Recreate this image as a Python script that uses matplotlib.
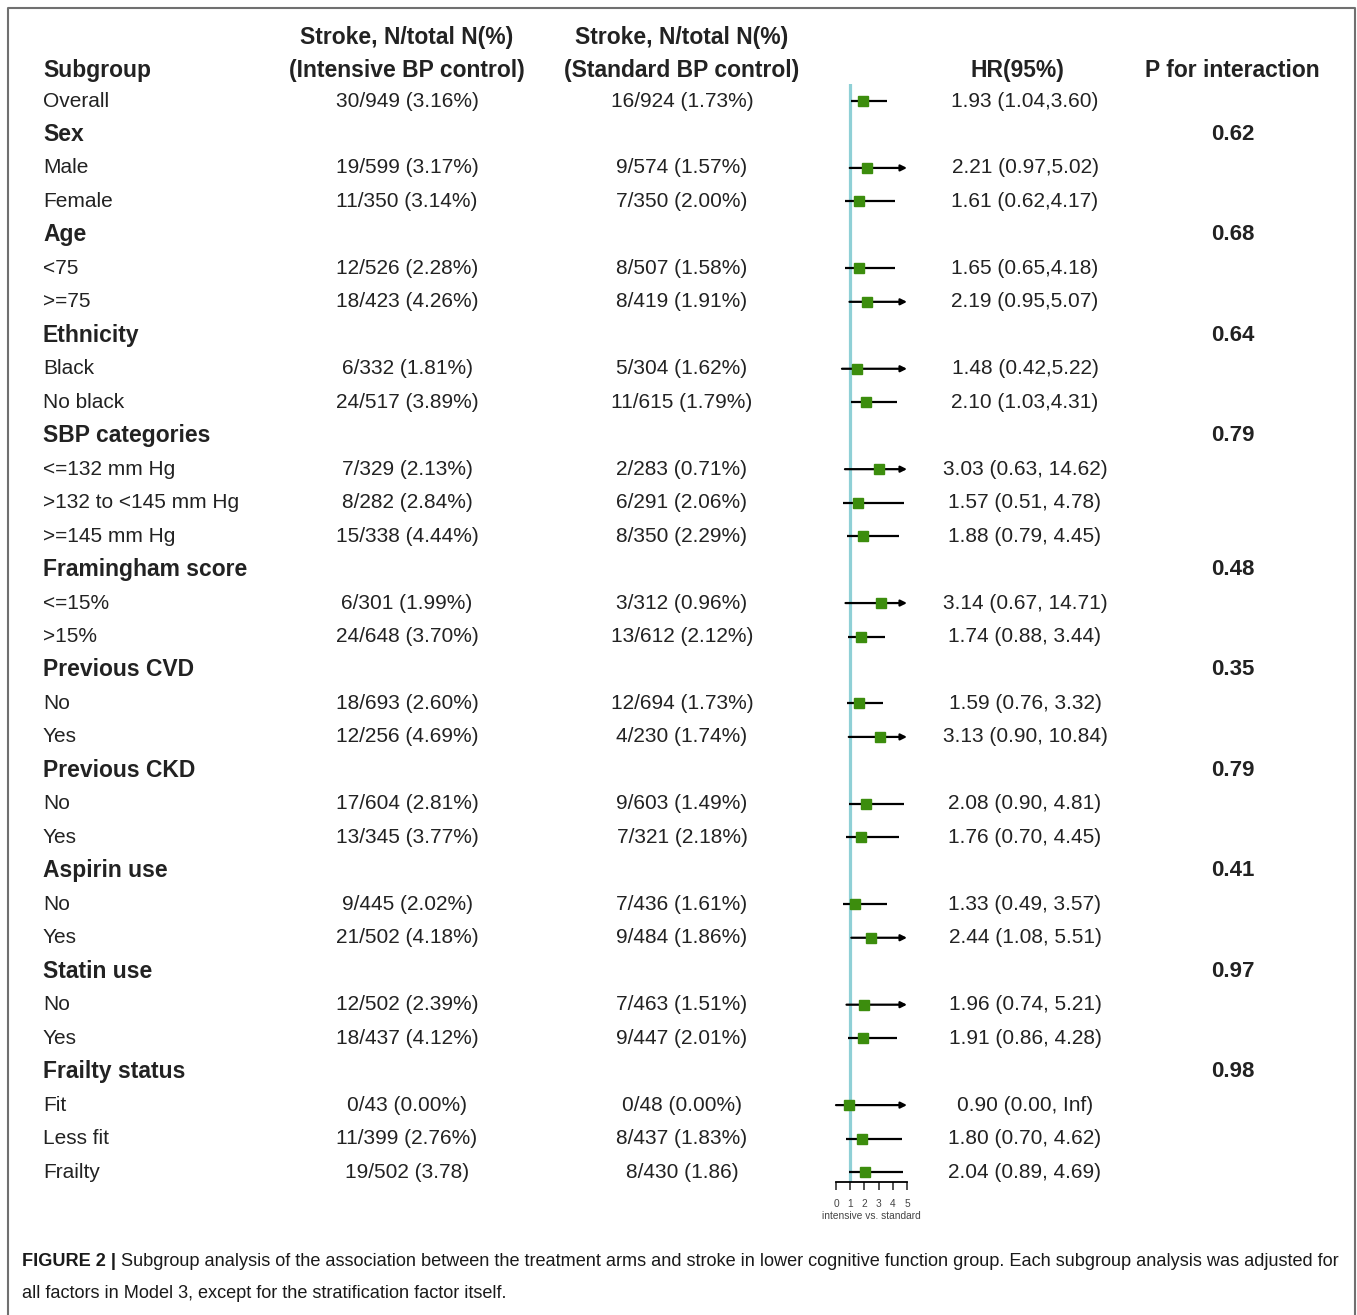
import numpy as np
import matplotlib.pyplot as plt

plt.rcParams["font.family"] = ["Liberation Sans", "DejaVu Sans"]

# subgroup rows, top to bottom
labels = ["Overall", "Sex", "Male", "Female", "Age", "<75", ">=75",
          "Ethnicity", "Black", "No black", "SBP categories", "<=132 mm Hg",
          ">132 to <145 mm Hg", ">=145 mm Hg", "Framingham score", "<=15%",
          ">15%", "Previous CVD", "No", "Yes", "Previous CKD", "No", "Yes",
          "Aspirin use", "No", "Yes", "Statin use", "No", "Yes",
          "Frailty status", "Fit", "Less fit", "Frailty"]
is_group = [False, True, False, False, True, False, False,
            True, False, False, True, False,
            False, False, True, False,
            False, True, False, False, True, False, False,
            True, False, False, True, False, False,
            True, False, False, False]
intensive = ["30/949 (3.16%)", "", "19/599 (3.17%)", "11/350 (3.14%)", "",
             "12/526 (2.28%)", "18/423 (4.26%)", "", "6/332 (1.81%)",
             "24/517 (3.89%)", "", "7/329 (2.13%)", "8/282 (2.84%)",
             "15/338 (4.44%)", "", "6/301 (1.99%)", "24/648 (3.70%)", "",
             "18/693 (2.60%)", "12/256 (4.69%)", "", "17/604 (2.81%)",
             "13/345 (3.77%)", "", "9/445 (2.02%)", "21/502 (4.18%)", "",
             "12/502 (2.39%)", "18/437 (4.12%)", "", "0/43 (0.00%)",
             "11/399 (2.76%)", "19/502 (3.78)"]
standard = ["16/924 (1.73%)", "", "9/574 (1.57%)", "7/350 (2.00%)", "",
            "8/507 (1.58%)", "8/419 (1.91%)", "", "5/304 (1.62%)",
            "11/615 (1.79%)", "", "2/283 (0.71%)", "6/291 (2.06%)",
            "8/350 (2.29%)", "", "3/312 (0.96%)", "13/612 (2.12%)", "",
            "12/694 (1.73%)", "4/230 (1.74%)", "", "9/603 (1.49%)",
            "7/321 (2.18%)", "", "7/436 (1.61%)", "9/484 (1.86%)", "",
            "7/463 (1.51%)", "9/447 (2.01%)", "", "0/48 (0.00%)",
            "8/437 (1.83%)", "8/430 (1.86)"]
hr = [1.93, None, 2.21, 1.61, None, 1.65, 2.19, None, 1.48, 2.10, None,
      3.03, 1.57, 1.88, None, 3.14, 1.74, None, 1.59, 3.13, None, 2.08,
      1.76, None, 1.33, 2.44, None, 1.96, 1.91, None, 0.90, 1.80, 2.04]
hr_lo = [1.04, None, 0.97, 0.62, None, 0.65, 0.95, None, 0.42, 1.03, None,
         0.63, 0.51, 0.79, None, 0.67, 0.88, None, 0.76, 0.90, None, 0.90,
         0.70, None, 0.49, 1.08, None, 0.74, 0.86, None, 0.00, 0.70, 0.89]
hr_hi = [3.60, None, 5.02, 4.17, None, 4.18, 5.07, None, 5.22, 4.31, None,
         14.62, 4.78, 4.45, None, 14.71, 3.44, None, 3.32, 10.84, None, 4.81,
         4.45, None, 3.57, 5.51, None, 5.21, 4.28, None, np.inf, 4.62, 4.69]
hr_text = ["1.93 (1.04,3.60)", "", "2.21 (0.97,5.02)", "1.61 (0.62,4.17)", "",
           "1.65 (0.65,4.18)", "2.19 (0.95,5.07)", "", "1.48 (0.42,5.22)",
           "2.10 (1.03,4.31)", "", "3.03 (0.63, 14.62)", "1.57 (0.51, 4.78)",
           "1.88 (0.79, 4.45)", "", "3.14 (0.67, 14.71)", "1.74 (0.88, 3.44)",
           "", "1.59 (0.76, 3.32)", "3.13 (0.90, 10.84)", "",
           "2.08 (0.90, 4.81)", "1.76 (0.70, 4.45)", "", "1.33 (0.49, 3.57)",
           "2.44 (1.08, 5.51)", "", "1.96 (0.74, 5.21)", "1.91 (0.86, 4.28)",
           "", "0.90 (0.00, Inf)", "1.80 (0.70, 4.62)", "2.04 (0.89, 4.69)"]
p_inter = ["", "0.62", "", "", "0.68", "", "", "0.64", "", "", "0.79", "",
           "", "", "0.48", "", "", "0.35", "", "", "0.79", "", "", "0.41", "",
           "", "0.97", "", "", "0.98", "", "", ""]
x_ticks = [0, 1, 2, 3, 4, 5]
x_cap = 5

W, H = 1357, 1315
row0, row_h = 101, 33.47
txt = "#222222"

fig = plt.figure(figsize=(W / 100, H / 100), dpi=100)
bg = fig.add_axes([0, 0, 1, 1])
bg.set_xlim(0, W)
bg.set_ylim(H, 0)
bg.axis("off")

# frame around the table
bg.plot([8, 8, 1355, 1355], [H, 8, 8, H], color="#707070", lw=1.5)

# column headers
bg.text(43, 70, "Subgroup", fontsize=16.5, fontweight="bold", color=txt,
        va="center")
bg.text(407, 37, "Stroke, N/total N(%)", fontsize=16.5, fontweight="bold",
        color=txt, ha="center", va="center")
bg.text(407, 70, "(Intensive BP control)", fontsize=16.5, fontweight="bold",
        color=txt, ha="center", va="center")
bg.text(682, 37, "Stroke, N/total N(%)", fontsize=16.5, fontweight="bold",
        color=txt, ha="center", va="center")
bg.text(682, 70, "(Standard BP control)", fontsize=16.5, fontweight="bold",
        color=txt, ha="center", va="center")
bg.text(1017, 70, "HR(95%)", fontsize=16.5, fontweight="bold", color=txt,
        ha="center", va="center")
bg.text(1232, 70, "P for interaction", fontsize=16.5, fontweight="bold",
        color=txt, ha="center", va="center")

for i, lab in enumerate(labels):
    y = row0 + row_h * i
    if is_group[i]:
        bg.text(43, y, lab, fontsize=16.5, fontweight="bold", color=txt,
                va="center")
    else:
        bg.text(43, y, lab, fontsize=15, color=txt, va="center")
    bg.text(407, y, intensive[i], fontsize=15, color=txt, ha="center",
            va="center")
    bg.text(682, y, standard[i], fontsize=15, color=txt, ha="center",
            va="center")
    bg.text(1025, y, hr_text[i], fontsize=15, color=txt, ha="center",
            va="center")
    bg.text(1233, y, p_inter[i], fontsize=16, fontweight="bold", color=txt,
            ha="center", va="center")

# forest panel: HR 0 at x=836 px, 14.2 px per unit
px0, unit = 836, 14.2
left_px, right_px, top_px, bot_px = 800, 942, 84, 1182
ax = fig.add_axes([left_px / W, 1 - bot_px / H,
                   (right_px - left_px) / W, (bot_px - top_px) / H])
ax.set_xlim((left_px - px0) / unit, (right_px - px0) / unit)
ax.set_ylim((bot_px - row0) / row_h, (top_px - row0) / row_h)
ax.patch.set_alpha(0)
for s in ["top", "left", "right"]:
    ax.spines[s].set_visible(False)
ax.spines["bottom"].set_bounds(0, 5)
ax.spines["bottom"].set_linewidth(1.3)
ax.set_yticks([])
ax.set_xticks(x_ticks)
ax.tick_params(axis="x", direction="out", length=6, width=1.3,
               labelsize=7.3, pad=6, colors="#444444")
ax.set_xlabel("intensive vs. standard", fontsize=7.3, labelpad=2,
              color="#444444")

ax.axvline(1, color="#8fd0d6", lw=2.3, zorder=1)

for i in range(len(labels)):
    if hr[i] is None:
        continue
    if hr_hi[i] > x_cap:
        ax.annotate("", xy=(x_cap, i), xytext=(hr_lo[i], i),
                    arrowprops=dict(arrowstyle="-|>", color="black", lw=1.6,
                                    mutation_scale=9, shrinkA=0, shrinkB=0),
                    zorder=2)
    else:
        ax.plot([hr_lo[i], hr_hi[i]], [i, i], color="black", lw=1.6,
                solid_capstyle="butt", zorder=2)
    ax.plot(hr[i], i, "s", color="#3c8d0d", ms=6.5, zorder=3)

# caption
cap_size = 13.1
t1 = bg.text(22, 1262, "FIGURE 2 |", fontsize=cap_size, fontweight="bold",
             color="#1a1a1a", va="center")
bg.annotate(" Subgroup analysis of the association between the treatment "
            "arms and stroke in lower cognitive function group. Each subgroup "
            "analysis was adjusted for",
            xy=(1, 0), xycoords=t1, va="bottom", fontsize=cap_size,
            color="#1a1a1a")
bg.text(22, 1294, "all factors in Model 3, except for the stratification "
        "factor itself.", fontsize=cap_size, color="#1a1a1a", va="center")

fig.savefig("out.png", dpi=100)
